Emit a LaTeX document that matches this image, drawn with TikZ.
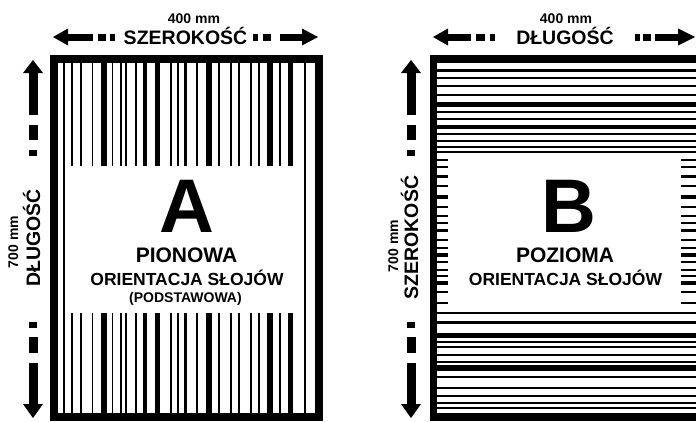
\documentclass[tikz,border=0pt]{standalone}
\usepackage{fontspec}
\setmainfont{Liberation Sans}
\begin{document}
\begin{tikzpicture}[x=1pt,y=-1pt,
  lbl/.style={inner sep=0pt,anchor=base,text=black},
  big/.style={lbl,font={\fontsize{76}{76}\selectfont\bfseries},text height=55pt,text depth=0pt},
  head/.style={lbl,font={\fontsize{21}{21}\selectfont\bfseries},text height=15pt,text depth=0pt},
  sub/.style={lbl,font={\fontsize{17.5}{18}\selectfont\bfseries}},
  small/.style={lbl,font={\fontsize{14}{14}\selectfont\bfseries}},
  dim/.style={lbl,font={\fontsize{19.5}{20}\selectfont\bfseries}},
  mm/.style={lbl,font={\fontsize{14}{14}\selectfont\bfseries}}]
\clip (0,0) rectangle (696,421);
\fill[white] (0,0) rectangle (696,421);

% ---------------- Panel A ----------------
\fill[black] (50,55) rectangle (323,421);
\fill[white] (58,63) rectangle (315,413);
\foreach \x/\w in {64/1.6,72/1.8,80.5/2,92.5/1.8,103.5/6,112.5/1.8,121/1.6,126/1.8,136/1.8,145/4,157/5,171/1.8,178/1.8,185/3,196.5/2,208.5/6,218.5/2,231/1.8,238.5/2,251/1.8,258.5/2,270/6,280/2,290/5,305/2}
  \fill[black] (\x-\w/2,63) rectangle (\x+\w/2,413);
\fill[white] (67,166) rectangle (302,313);

% ---------------- Panel B ----------------
\fill[black] (430,55) rectangle (700,421);
\fill[white] (437,63) rectangle (700,413);
\foreach \y/\w in {70/3,78/1.8,86/2,95/1.8,104/5,112/1.8,119/2,127/4,134/1.8,141/2,147/1.8,152/2,
  160/1.8,167/2,176/3,186/1.8,197/4,207/1.8,216/2,223/1.8,230/3,240/2,248/1.8,255/4,262/1.8,270/2,276/1.8,283/4,292/2,303/2,
  313/2,322/3,335/5,342/1.8,347/1.8,355/2,362/1.8,367.5/6,377/1.8,388/2,396/2.5,403/1.8,408/1.8}
  \fill[black] (437,\y-\w/2) rectangle (700,\y+\w/2);
\fill[white] (448,155) rectangle (681,312);

% ---------------- Horizontal arrows ----------------
% A
\fill[black] (53,37) -- (68,28.5) -- (68,45.5) -- cycle;
\fill[black] (67,33.5) rectangle (93,40.5);
\fill[black] (98,33.5) rectangle (106,40.5);
\fill[black] (110,33.5) rectangle (115,40.5);
\fill[black] (253,33.5) rectangle (258,40.5);
\fill[black] (263,33.5) rectangle (271,40.5);
\fill[black] (280,33.5) rectangle (303,40.5);
\fill[black] (302,28.5) -- (318,37) -- (302,45.5) -- cycle;
% B
\fill[black] (433,37) -- (448,28.5) -- (448,45.5) -- cycle;
\fill[black] (447,33.5) rectangle (471,40.5);
\fill[black] (476,33.5) rectangle (485,40.5);
\fill[black] (490,33.5) rectangle (495,40.5);
\fill[black] (635,33.5) rectangle (640,40.5);
\fill[black] (643,33.5) rectangle (651,40.5);
\fill[black] (655,33.5) rectangle (679,40.5);
\fill[black] (678,28.5) -- (695,37) -- (678,45.5) -- cycle;

% ---------------- Vertical arrows ----------------
\foreach \c in {33,411}{
  \fill[black] (\c,60) -- (\c-10,73) -- (\c+10,73) -- cycle;
  \fill[black] (\c-4.5,72) rectangle (\c+4.5,115);
  \fill[black] (\c-4.5,125) rectangle (\c+4.5,140);
  \fill[black] (\c-4,150) rectangle (\c+4,156);
  \fill[black] (\c-4,322) rectangle (\c+4,328);
  \fill[black] (\c-4.5,337) rectangle (\c+4.5,353);
  \fill[black] (\c-4.5,363) rectangle (\c+4.5,405);
  \fill[black] (\c-10,404) -- (\c+10,404) -- (\c,418) -- cycle;
}

% ---------------- Texts ----------------
\node[mm] (a400) at (194,23) {400 mm};
\node[dim] (aszer) at (185.5,44) {SZEROKOŚĆ};
\node[mm,rotate=90] (a700) at (18,242) {700 mm};
\node[dim,rotate=90] (adlug) at (40,238) {DŁUGOŚĆ};
\node[big] (aA) at (187,232) {A};
\node[head] (apion) at (186.5,262) {PIONOWA};
\node[sub] (aor) at (187,285) {ORIENTACJA SŁOJÓW};
\node[small] (apod) at (185.5,302) {(PODSTAWOWA)};

\node[mm] (b400) at (566,23) {400 mm};
\node[dim] (bdlug) at (565,44) {DŁUGOŚĆ};
\node[mm,rotate=90] (b700) at (398,246) {700 mm};
\node[dim,rotate=90] (bszer) at (418,237.5) {SZEROKOŚĆ};
\node[big] (bB) at (569,232) {B};
\node[head] (bpoz) at (565,262) {POZIOMA};
\node[sub] (bor) at (565.5,285) {ORIENTACJA SŁOJÓW};
\end{tikzpicture}
\end{document}
